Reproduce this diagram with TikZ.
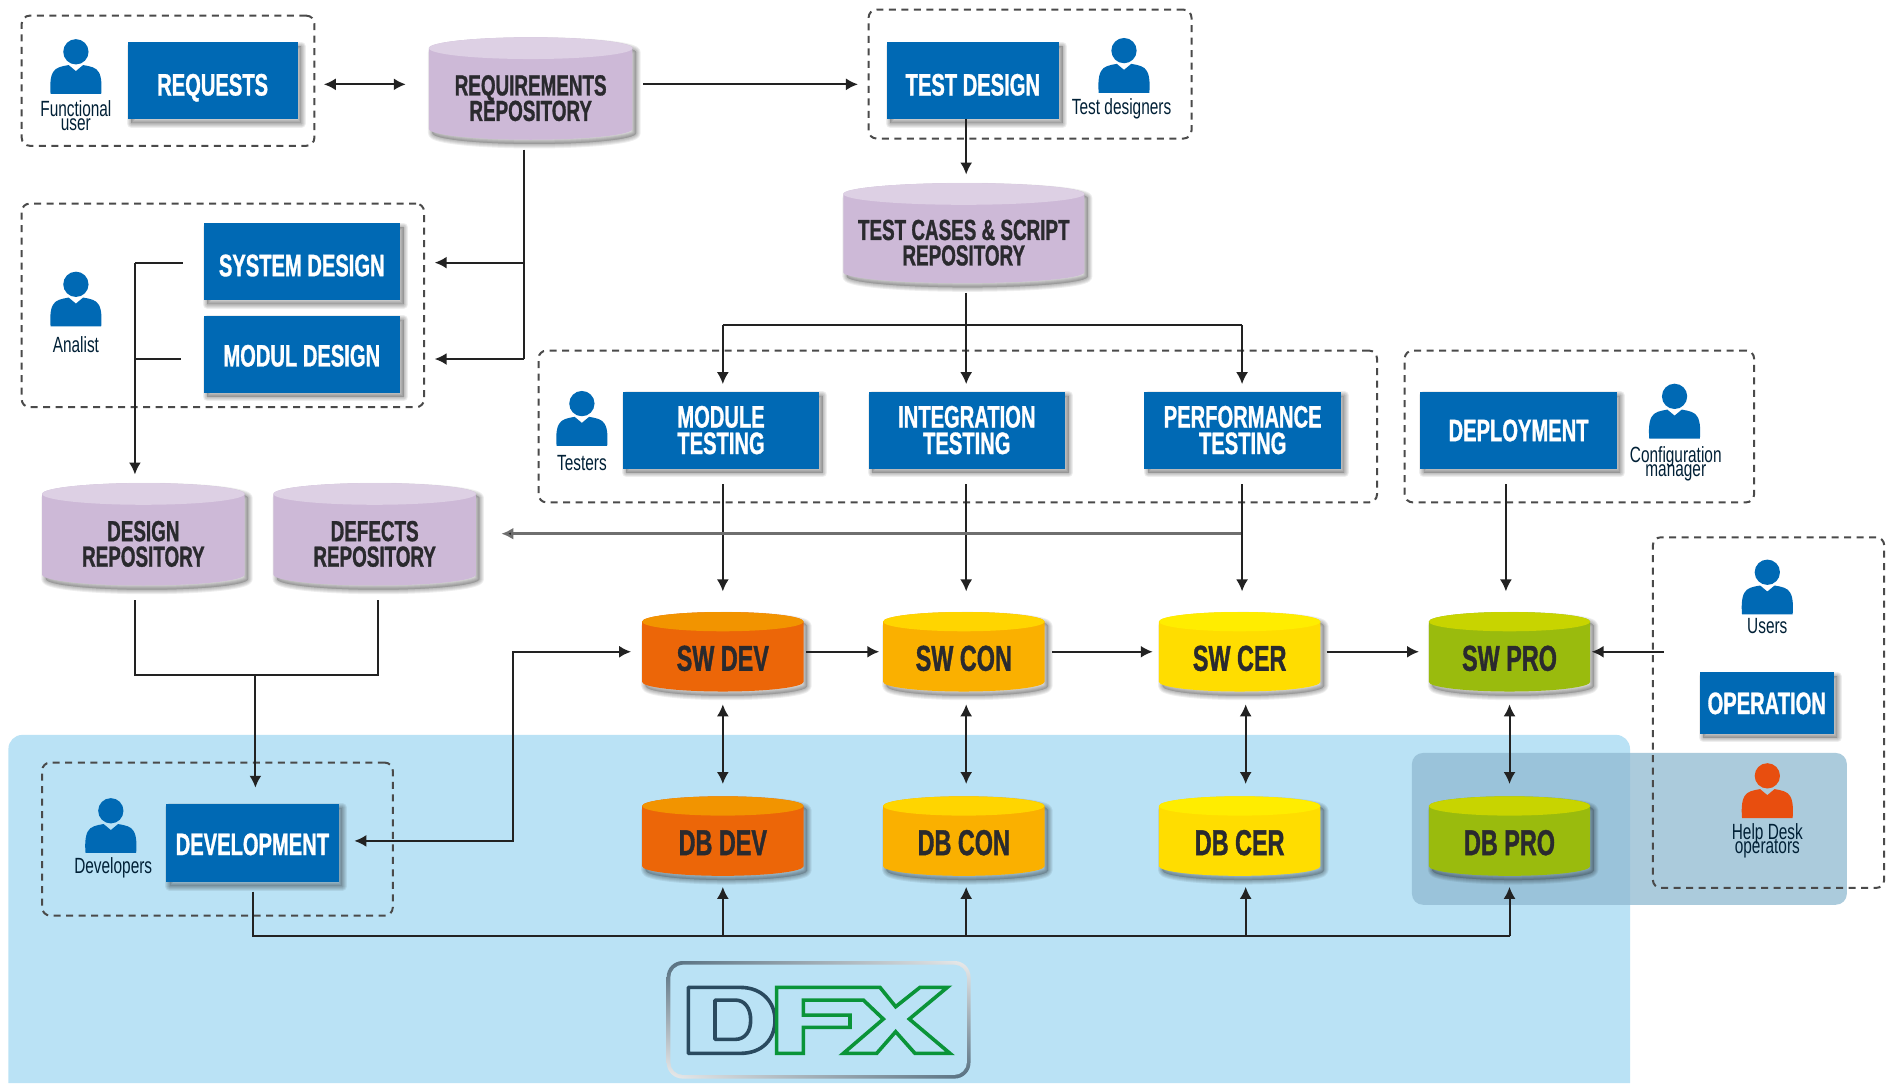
\documentclass[tikz,border=0pt]{standalone}
\usepackage{fontspec}
\setmainfont{Liberation Sans}
\newfontfamily\condbold[FakeStretch=0.65,FakeBold=1]{Liberation Sans Bold}
\newfontfamily\condreg[FakeStretch=0.7]{Liberation Sans}
\usetikzlibrary{arrows.meta,shadings}
\definecolor{bluebox}{HTML}{0069B4}
\definecolor{lightbg}{HTML}{BAE2F5}
\definecolor{ovtint}{RGB}{143,185,209}
\definecolor{dashc}{HTML}{4A4A4A}
\definecolor{linec}{HTML}{222222}
\definecolor{darktxt}{HTML}{2A2A2E}
\definecolor{purpb}{HTML}{CDB9D7}\definecolor{purpt}{HTML}{DDD0E4}
\definecolor{orab}{HTML}{EC6608}\definecolor{orat}{HTML}{F29400}
\definecolor{ambb}{HTML}{FAB000}\definecolor{ambt}{HTML}{FFD500}
\definecolor{yelb}{HTML}{FFDD00}\definecolor{yelt}{HTML}{FFED00}
\definecolor{greb}{HTML}{9ABB0D}\definecolor{gret}{HTML}{C8D400}
\definecolor{logod}{HTML}{2A4A5F}\definecolor{logog}{HTML}{0A9438}
\definecolor{helpred}{HTML}{E84E0F}
\lineskiplimit=-30pt
\tikzset{
  dashbox/.style={draw=dashc,line width=2pt,dash pattern=on 7pt off 5.5pt,rounded corners=8pt},
  bluetask/.style={draw=none,fill=bluebox,text=white,align=center,inner sep=0pt,
     font=\condbold\fontsize{31}{26.5}\selectfont},
  cyltext/.style={draw=none,fill=none,text=darktxt,align=center,inner sep=0pt,yshift=-6pt,
     font=\condbold\fontsize{29}{25.5}\selectfont},
  colortext/.style={draw=none,fill=none,text=darktxt,align=center,inner sep=0pt,yshift=-3pt,
     font=\condbold\fontsize{36}{36}\selectfont},
  who/.style={inner sep=0pt,text=black!70!bluebox,align=center,font=\condreg\fontsize{22}{14.5}\selectfont},
  conn/.style={draw=linec,line width=2pt},
  head/.style={-{Latex[length=12pt,width=12pt]}},
  bothhead/.style={{Latex[length=12pt,width=12pt]}-{Latex[length=12pt,width=12pt]}},
}
\newcommand{\softshadow}[1]{%
  \foreach \w in {9,7,5,3,1}{\path[fill=black,draw=black,fill opacity=.03,draw opacity=.065,line width=\w pt,line join=round,shift={(3,3.5)}] #1;}}
\newcommand{\oneline}[2]{\raisebox{#1}[0pt][0pt]{#2}}
\newcommand{\taskbox}[6]{%
  \softshadow{(#2,#3) rectangle (#4,#5)}
  \pgfmathsetmacro{\cx}{(#2+#4)/2}\pgfmathsetmacro{\cy}{(#3+#5)/2}
  \pgfmathsetmacro{\ww}{(#4-#2)*1.2047}\pgfmathsetmacro{\hh}{(#5-#3)*1.2047}
  \node[bluetask,minimum width=\ww pt,minimum height=\hh pt] (#1) at (\cx,\cy) {#6};}
\newcommand{\cyl}[9]{%
  \def\cylname{#1}\def\cxa{#2}\def\cxb{#3}\def\cya{#4}\def\cyb{#5}\def\cry{#6}\def\cbody{#7}\def\ctop{#8}\def\cstyle{#9}\cylcont}
\newcommand{\cylcont}[1]{%
  \pgfmathsetmacro{\cx}{(\cxa+\cxb)/2}\pgfmathsetmacro{\rx}{(\cxb-\cxa)/2}
  \pgfmathsetmacro{\cy}{(\cya+\cyb)/2}
  \pgfmathsetmacro{\ytop}{\cya+\cry}\pgfmathsetmacro{\ybot}{\cyb-\cry}
  \softshadow{(\cxa,\ytop) -- (\cxa,\ybot) arc[start angle=180,end angle=360,x radius=\rx,y radius=-\cry] -- (\cxb,\ytop) arc[start angle=0,end angle=180,x radius=\rx,y radius=-\cry] -- cycle}
  \fill[\cbody] (\cxa,\ytop) -- (\cxa,\ybot) arc[start angle=180,end angle=360,x radius=\rx,y radius=-\cry] -- (\cxb,\ytop) arc[start angle=0,end angle=180,x radius=\rx,y radius=-\cry] -- cycle;
  \fill[\ctop] (\cx,\ytop) ellipse[x radius=\rx,y radius=\cry];
  \pgfmathsetmacro{\ww}{(\cxb-\cxa)*1.2047}\pgfmathsetmacro{\hh}{(\cyb-\cya)*1.2047}
  \node[\cstyle,minimum width=\ww pt,minimum height=\hh pt] (\cylname) at (\cx,\cy+3) {#1};}
\newcommand{\person}[3]{%
  \begin{scope}[shift={(#1,#2)}]
   \fill[#3] (0,-13) circle[radius=10.5];
   \fill[#3] (-21,22) .. controls (-21.5,16) and (-21.5,8) .. (-19,4)
     .. controls (-17,0) and (-12,-1) .. (-6,-2) -- (0,3) -- (6,-2)
     .. controls (12,-1) and (17,0) .. (19,4) .. controls (21.5,8) and (21.5,16) .. (21,22) -- cycle;
  \end{scope}}
\begin{document}
\begin{tikzpicture}[x=1.2047pt,y=-1.2047pt]
\useasboundingbox (0,0) rectangle (1568,899);
\fill[white] (0,0) rectangle (1568,899);
% backgrounds
\fill[lightbg] (7,899) [rounded corners=14pt] -- (7,610) -- (1353,610) [sharp corners] -- (1353,899) -- cycle;
\fill[ovtint,opacity=.74,rounded corners=11pt] (1172,625) rectangle (1533,751);

% dashed groups
\node[dashbox,minimum width=292.7pt,minimum height=130.1pt] (groupreq) at (139.5,67) {};
\node[dashbox,minimum width=402.4pt,minimum height=203.6pt] (groupdesign) at (185,253.5) {};
\node[dashbox,minimum width=322.9pt,minimum height=128.9pt] (grouptest) at (855,61.5) {};
\node[dashbox,minimum width=838.5pt,minimum height=151.8pt] (grouptesting) at (795,354) {};
\node[dashbox,minimum width=349.4pt,minimum height=151.8pt] (groupdeploy) at (1311,354) {};
\node[dashbox,minimum width=350.6pt,minimum height=153pt] (groupdev) at (180.5,696.5) {};
\node[dashbox,minimum width=231.3pt,minimum height=350.6pt] (groupops) at (1468,591.5) {};

% task boxes
\taskbox{requests}{106}{35}{247}{99}{\oneline{-14.8pt}{REQUESTS}}
\taskbox{testdesign}{736}{35}{879}{99}{\oneline{-14.8pt}{TEST DESIGN}}
\taskbox{systemdesign}{169}{185}{332}{249}{\oneline{-14.8pt}{SYSTEM DESIGN}}
\taskbox{moduldesign}{169}{262}{332}{326}{\oneline{-12.3pt}{MODUL DESIGN}}
\taskbox{moduletesting}{517}{325}{680}{389}{MODULE\\TESTING}
\taskbox{integration}{721}{325}{884}{389}{INTEGRATION\\TESTING}
\taskbox{performance}{950}{325}{1113}{389}{PERFORMANCE\\TESTING}
\taskbox{deployment}{1179}{325}{1342}{389}{\oneline{-11.1pt}{DEPLOYMENT}}
\taskbox{operation}{1411}{558}{1522}{609}{\oneline{-11.1pt}{OPERATION}}
\taskbox{development}{138}{667}{281}{732}{\oneline{-12.3pt}{DEVELOPMENT}}

% repositories
\cyl{reqrepo}{356}{525}{31}{116}{9}{purpb}{purpt}{cyltext}{REQUIREMENTS\\REPOSITORY}
\cyl{casesrepo}{700}{900}{152}{235}{9}{purpb}{purpt}{cyltext}{TEST CASES \& SCRIPT\\REPOSITORY}
\cyl{designrepo}{35}{203}{401}{486}{9}{purpb}{purpt}{cyltext}{DESIGN\\REPOSITORY}
\cyl{defectsrepo}{227}{395}{401}{486}{9}{purpb}{purpt}{cyltext}{DEFECTS\\REPOSITORY}
% environments
\cyl{swdev}{533}{667}{508}{574}{8}{orab}{orat}{colortext}{SW DEV}
\cyl{swcon}{733}{867}{508}{574}{8}{ambb}{ambt}{colortext}{SW CON}
\cyl{swcer}{962}{1096}{508}{574}{8}{yelb}{yelt}{colortext}{SW CER}
\cyl{swpro}{1186}{1320}{508}{574}{8}{greb}{gret}{colortext}{SW PRO}
\cyl{dbdev}{533}{667}{661}{727}{8}{orab}{orat}{colortext}{DB DEV}
\cyl{dbcon}{733}{867}{661}{727}{8}{ambb}{ambt}{colortext}{DB CON}
\cyl{dbcer}{962}{1096}{661}{727}{8}{yelb}{yelt}{colortext}{DB CER}
\cyl{dbpro}{1186}{1320}{661}{727}{8}{greb}{gret}{colortext}{DB PRO}

% people
\person{63}{56}{bluebox}
\person{933}{55}{bluebox}
\person{63}{249}{bluebox}
\person{483}{348}{bluebox}
\person{1390}{342}{bluebox}
\person{1467}{488}{bluebox}
\person{92}{686}{bluebox}
\person{1467}{657}{helpred}
\node[who] (lblfunc) at (63,96) {Functional\\user};
\node[who] (lbltest) at (931,90) {Test designers};
\node[who] (lblanalist) at (63,286) {Analist};
\node[who] (lbltesters) at (483,384) {Testers};
\node[who] (lblconfig) at (1391,385) {Configuration\\manager};
\node[who] (lblusers) at (1467,520) {Users};
\node[who] (lblhelp) at (1467,698) {Help Desk\\operators};
\node[who] (lbldev) at (94,720) {Developers};

% connector junctions
\coordinate (repotap) at (435,218);
\coordinate (repoturn) at (435,298);
\coordinate (designturn) at (112,298);
\coordinate (sysjoin) at (112,218);
\coordinate (casesbar) at (802,270);
\coordinate (barL) at (600,270);
\coordinate (barR) at (1031,270);
\coordinate (repoL) at (112,560);
\coordinate (repoR) at (314,560);
\coordinate (repoM) at (212,560);
\coordinate (devV) at (426,698);
\coordinate (devH) at (426,541);
\coordinate (busL) at (210,777);
\coordinate (busR) at (1253,777);

% connectors
\draw[conn,bothhead,shorten <=8.4pt,shorten >=22.9pt] (groupreq.east |- 0,70) -- (reqrepo.west |- 0,70);
\draw[conn,head,shorten <=10.8pt,shorten >=9.6pt] (reqrepo.east |- 0,70) -- (grouptest.west |- 0,70);
\draw[conn,head,shorten >=18pt] (testdesign.south -| 802,0) -- (casesrepo.north -| 802,0);
\draw[conn] (reqrepo.south -| repoturn) -- (repoturn);
\draw[conn,head,shorten >=9.6pt] (repoturn) -- (groupdesign.east |- repoturn);
\draw[conn,head,shorten >=9.6pt] (repotap) -- (groupdesign.east |- repotap);
\draw[conn,shorten <=20.4pt] (systemdesign.west |- sysjoin) -- (sysjoin);
\draw[conn,shorten <=22.8pt] (moduldesign.west |- designturn) -- (designturn);
\draw[conn,head,shorten >=18pt] (sysjoin) -- (designrepo.north -| sysjoin);
\draw[conn,head,shorten >=7.2pt] (casesrepo.south -| casesbar) -- (integration.north -| casesbar);
\draw[conn] (barL) -- (barR);
\draw[conn,head,shorten >=7.2pt] (barL) -- (moduletesting.north -| barL);
\draw[conn,head,shorten >=7.2pt] (barR) -- (performance.north -| barR);

\draw[conn,head,shorten <=15.6pt,shorten >=27pt] (moduletesting.south -| barL) -- (swdev.north -| barL);
\draw[conn,head,shorten <=15.6pt,shorten >=27pt] (integration.south -| casesbar) -- (swcon.north -| casesbar);
\draw[conn,head,shorten <=15.6pt,shorten >=27pt] (performance.south -| barR) -- (swcer.north -| barR);
\draw[conn,head,shorten <=15.6pt,shorten >=27pt] (deployment.south -| 1250,0) -- (swpro.north -| 1250,0);
\draw[draw=linec!65,line width=3pt,-{Latex[length=12pt,width=12pt,fill=linec]},shorten >=25.3pt] (barR |- 0,443) -- (defectsrepo.east |- 0,443);
\draw[conn] (barR |- 0,440) -- (barR |- 0,446);

\draw[conn,shorten <=4.8pt,shorten >=4.8pt] (designrepo.south -| repoL) -- (repoL) -- (repoR) -- (defectsrepo.south -| repoR);
\draw[conn,head,shorten >=15.6pt] (repoM) -- (development.north -| repoM);

\draw[conn,head,shorten <=2.4pt,shorten >=3.6pt] (swdev.east |- 0,541) -- (swcon.west |- 0,541);
\draw[conn,head,shorten <=7.2pt,shorten >=6pt] (swcon.east |- 0,541) -- (swcer.west |- 0,541);
\draw[conn,head,shorten <=6pt,shorten >=9.6pt] (swcer.east |- 0,541) -- (swpro.west |- 0,541);
\draw[conn,head,shorten <=-12pt,shorten >=1.2pt] (groupops.west |- 0,541) -- (swpro.east |- 0,541);
\foreach \a/\b/\x in {swdev/dbdev/600,swcon/dbcon/802,swcer/dbcer/1034,swpro/dbpro/1253}
  \draw[conn,bothhead,shorten <=6pt,shorten >=18.7pt] (\a.south -| \x,0) -- (\b.north -| \x,0);
\draw[conn,bothhead,shorten <=15.6pt,shorten >=10.8pt] (development.east |- devV) -- (devV) -- (devH) -- (swdev.west |- devH);
\draw[conn,shorten <=9.6pt] (development.south -| busL) -- (busL) -- (busR);
\foreach \t/\x in {dbdev/600,dbcon/802,dbcer/1034,dbpro/1253}
  \draw[conn,head,shorten >=4.2pt] (\x,777) -- (\t.south -| \x,0);

% logo
\shade[rounded corners=16pt,upper left=logod!80!white,upper right=white!85!gray,lower left=white!85!gray,lower right=logod!80!white] (553.4,797.7) rectangle (805.6,895.3);
\fill[lightbg,rounded corners=13pt] (556.4,800.7) rectangle (802.6,892.3);
\begin{scope}[shift={(498.05,747.1)},x=.3333pt,y=-.3333pt]
\draw[logod,line width=3.6pt,line join=round] (265,262) -- (420,262) .. controls (490,262) and (525,310) .. (525,360) .. controls (525,415) and (490,460) .. (420,460) -- (265,460) -- cycle;
\draw[logod,line width=3.6pt,line join=round] (345,300) -- (405,300) .. controls (435,300) and (452,325) .. (452,360) .. controls (452,395) and (435,418) .. (405,418) -- (345,418) -- cycle;
\draw[logog,line width=3.6pt,line join=miter] (530,262) -- (840,262) -- (887,320) -- (960,262) -- (1042,262) -- (928,357) -- (1050,460) -- (945,460) -- (887,395) -- (830,460) -- (730,460) -- (850,357) -- (790,300) -- (610,300) -- (610,345) -- (750,345) -- (750,382) -- (610,382) -- (610,460) -- (530,460) -- cycle;
\end{scope}
\end{tikzpicture}
\end{document}
